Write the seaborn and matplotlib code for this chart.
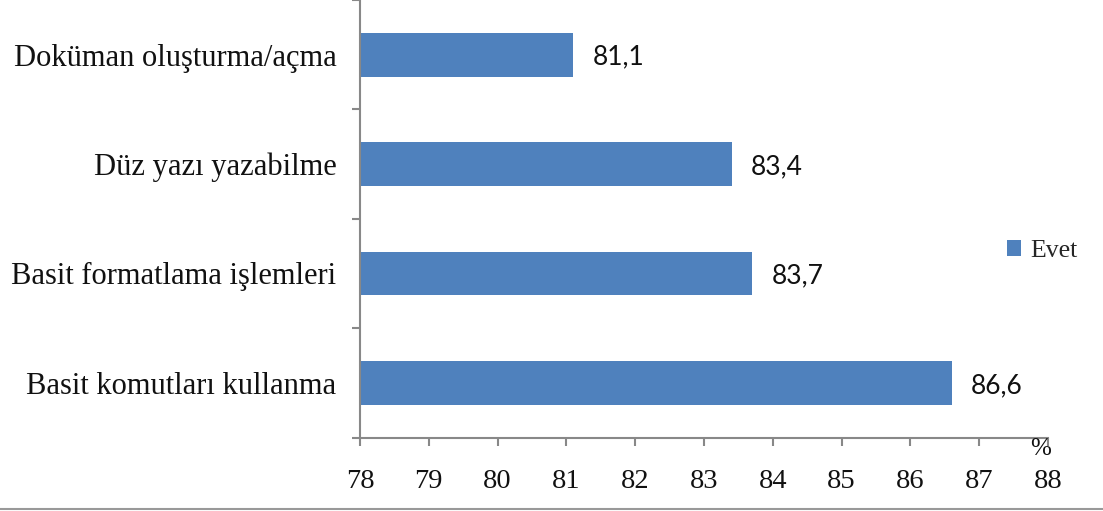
import matplotlib
matplotlib.use("Agg")
import matplotlib.pyplot as plt
import seaborn as sns
import pandas as pd
from matplotlib.lines import Line2D

# Data
categories = [
    "Doküman oluşturma/açma",
    "Düz yazı yazabilme",
    "Basit formatlama işlemleri",
    "Basit komutları kullanma",
]
values = [81.1, 83.4, 83.7, 86.6]
series_name = "Evet"
x_ticks = list(range(78, 89))
unit_label = "%"

df = pd.DataFrame({"Beceri": categories, "Oran": values, "Seri": series_name})

sns.set_theme(style="white")
plt.rcParams["font.family"] = ["Liberation Serif", "DejaVu Serif"]

W, H = 1103, 511
fig = plt.figure(figsize=(W / 100, H / 100), dpi=100)
ax = fig.add_axes([360 / W, 1 - 437.5 / H, (1048 - 360) / W, 437.5 / H])

bar_color = "#4F81BD"
axis_color = "#888888"

sns.barplot(
    data=df, y="Beceri", x="Oran", hue="Seri", palette=[bar_color],
    saturation=1, width=0.4, orient="h", ax=ax, linewidth=0, legend=True,
)

ax.set_xlim(x_ticks[0], x_ticks[-1])
ax.set_ylim(len(categories) - 0.5, -0.5)
ax.set_xlabel("")
ax.set_ylabel("")

# Value labels with decimal comma
for cont in ax.containers:
    texts = ax.bar_label(
        cont,
        labels=[f"{v:.1f}".replace(".", ",") for v in cont.datavalues],
        padding=14, fontsize=19, family=["Lato", "DejaVu Sans"],
        color="#111111",
    )
    for t in texts:
        t.set_va("center_baseline")

# Axes styling
for side in ("top", "right"):
    ax.spines[side].set_visible(False)
for side in ("left", "bottom"):
    ax.spines[side].set_color(axis_color)
    ax.spines[side].set_linewidth(1.5)

ax.set_xticks(x_ticks)
ax.set_xticklabels([str(t) for t in x_ticks])
ax.tick_params(axis="x", direction="out", length=5.5, width=1.5,
               color=axis_color, labelsize=20.5, pad=17, labelcolor="#111111",
               bottom=True)

ax.set_yticks(range(len(categories)))
ax.set_yticklabels(categories)
ax.set_yticks([i - 0.5 for i in range(len(categories) + 1)], minor=True)
ax.tick_params(axis="y", which="major", length=0, labelsize=22, pad=17,
               labelcolor="#111111", left=False)
ax.tick_params(axis="y", which="minor", direction="out", length=6,
               width=1.5, color=axis_color, left=True)

# Unit marker at the end of the value axis
ax.annotate(unit_label, xy=(1, 0), xycoords="axes fraction",
            xytext=(2, 0), textcoords="offset points",
            ha="right", va="top", fontsize=18, color="#111111")

# Legend
handles, labels = ax.get_legend_handles_labels()
ax.legend(handles, labels, loc="center left",
          bbox_to_anchor=(997 / W, 1 - 251 / H), bbox_transform=fig.transFigure,
          frameon=False, handlelength=0.55, handleheight=0.55, handletextpad=0.35,
          prop={"family": "Liberation Serif", "size": 18.5}, borderaxespad=0)

# Bottom frame line
y_line = 1 - 509 / H
fig.add_artist(Line2D([0, 1], [y_line, y_line], transform=fig.transFigure,
                      color="#999999", linewidth=1.5))

fig.savefig("out.png", dpi=100)
